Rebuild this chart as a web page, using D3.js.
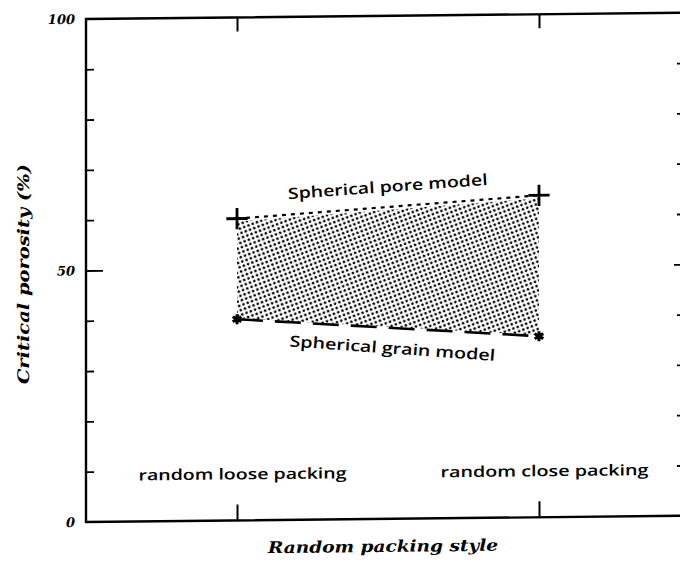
<!DOCTYPE html>
<html>
<head>
<meta charset="utf-8">
<script src="https://cdn.jsdelivr.net/npm/d3@7"></script>
<style>
  body { margin: 0; background: #fff; overflow: hidden; }
  svg { display: block; }
</style>
</head>
<body>
<div id="chart"></div>
<script>
// Critical porosity vs random packing style

// Data
var categories = ["random loose packing", "random close packing"];
var poreModel = [60, 64];   // Spherical pore model (%)
var grainModel = [40, 36];  // Spherical grain model (%)
var yLabelTicks = [0, 50, 100];
var yMinorTicks = [10, 20, 30, 40, 50, 60, 70, 80, 90];

var W = 680, H = 563;
var margin = { top: 19, right: -10, bottom: 41, left: 86 };
var width = W - margin.left - margin.right,
  height = H - margin.top - margin.bottom;

var svg = d3.select("#chart")
  .append("svg")
  .attr("width", W)
  .attr("height", H);

// stipple pattern for the band between the two models
var defs = svg.append("defs");
var pat = defs.append("pattern")
  .attr("id", "stipple")
  .attr("patternUnits", "userSpaceOnUse")
  .attr("width", 6.4)
  .attr("height", 6.4)
  .attr("patternTransform", "rotate(25)");
pat.append("circle").attr("cx", 1.6).attr("cy", 1.6).attr("r", 1.3).attr("fill", "#000");
pat.append("circle").attr("cx", 4.8).attr("cy", 4.8).attr("r", 1.3).attr("fill", "#000");

// the scanned figure is slightly skewed, keep that
var g = svg.append("g")
  .attr("transform", "translate(" + margin.left + "," + margin.top + ") skewY(-0.6)");

var x = d3.scalePoint()
  .domain(categories)
  .range([0, width])
  .padding(0.5);

var y = d3.scaleLinear()
  .domain([0, 100])
  .range([height, 0]);

// Frame
g.append("rect")
  .attr("x", 0)
  .attr("y", 0)
  .attr("width", width)
  .attr("height", height)
  .attr("fill", "none")
  .attr("stroke", "#000")
  .attr("stroke-width", 2.4);

// Left minor ticks (inward)
var leftAxis = g.append("g")
  .call(d3.axisRight(y).tickValues(yMinorTicks).tickSize(8).tickFormat(""));
leftAxis.select(".domain").remove();
leftAxis.selectAll(".tick line")
  .attr("stroke-width", 1.8)
  .attr("x2", d => d === 50 ? 17 : 8);

// Left labels
var leftLabels = g.append("g")
  .call(d3.axisLeft(y).tickValues(yLabelTicks).tickSize(0).tickPadding(11));
leftLabels.select(".domain").remove();
leftLabels.selectAll("text")
  .style("font-family", "'DejaVu Serif', serif")
  .style("font-style", "italic")
  .style("font-weight", "bold")
  .style("font-size", "13px")
  .attr("fill", "#000");

// Right ticks (inward, the axis line itself is off the page)
var rightAxis = g.append("g")
  .attr("transform", "translate(" + width + ",0)")
  .call(d3.axisLeft(y).tickValues(yMinorTicks).tickSize(13).tickFormat(""));
rightAxis.select(".domain").remove();
rightAxis.selectAll(".tick line")
  .attr("stroke-width", 1.8)
  .attr("x2", d => d === 50 ? -16 : -13);

// Top ticks
var topAxis = g.append("g")
  .call(d3.axisBottom(x).tickSize(14).tickFormat(""));
topAxis.select(".domain").remove();
topAxis.selectAll(".tick line").attr("stroke-width", 2);

// Bottom ticks with category labels inside the plot
var bottomAxis = g.append("g")
  .attr("transform", "translate(0," + height + ")")
  .call(d3.axisTop(x).tickSize(16).tickPadding(25));
bottomAxis.select(".domain").remove();
bottomAxis.selectAll(".tick line").attr("stroke-width", 2);
bottomAxis.selectAll(".tick text")
  .attr("x", 5)
  .attr("dy", 0)
  .attr("textLength", 208)
  .attr("lengthAdjust", "spacingAndGlyphs")
  .style("font-family", "'Open Sans', sans-serif")
  .style("font-weight", "600")
  .style("font-size", "15px")
  .attr("fill", "#000");

// Stippled band between models
var band = categories.map((c, i) => ({ c: c, pore: poreModel[i], grain: grainModel[i] }));

var area = d3.area()
  .x(d => x(d.c))
  .y0(d => y(d.grain) - 1)
  .y1(d => y(d.pore) + 3);

g.append("path")
  .datum(band)
  .attr("d", area)
  .attr("fill", "url(#stipple)");

// Model lines
var poreLine = d3.line().x(d => x(d.c)).y(d => y(d.pore));
var grainLine = d3.line().x(d => x(d.c)).y(d => y(d.grain));

g.append("path")
  .datum(band)
  .attr("d", poreLine)
  .attr("fill", "none")
  .attr("stroke", "#000")
  .attr("stroke-width", 2.2)
  .attr("stroke-dasharray", "4,5");

g.append("path")
  .datum(band)
  .attr("d", grainLine)
  .attr("fill", "none")
  .attr("stroke", "#000")
  .attr("stroke-width", 2.6)
  .attr("stroke-dasharray", "26,12");

// Markers
var plus = d3.symbol().type(d3.symbolPlus || d3.symbolCross).size(150);
var star = d3.symbol().type(d3.symbolAsterisk || d3.symbolStar).size(70);

g.selectAll(".pore-mark")
  .data(band)
  .enter()
  .append("path")
  .attr("class", "pore-mark")
  .attr("transform", d => "translate(" + x(d.c) + "," + y(d.pore) + ")")
  .attr("d", plus)
  .attr("fill", "none")
  .attr("stroke", "#000")
  .attr("stroke-width", 2.8);

g.selectAll(".grain-mark")
  .data(band)
  .enter()
  .append("path")
  .attr("class", "grain-mark")
  .attr("transform", d => "translate(" + x(d.c) + "," + y(d.grain) + ")")
  .attr("d", star)
  .attr("fill", "#000")
  .attr("stroke", "#000")
  .attr("stroke-width", 3);

// Model labels
var midX = (x(categories[0]) + x(categories[1])) / 2;
var poreMid = y(d3.mean(poreModel)) - 15;
var grainMid = y(d3.mean(grainModel)) + 26;

var labelStyle = function (sel) {
  sel.style("font-family", "'Open Sans', sans-serif")
    .style("font-weight", "600")
    .style("font-size", "15.5px")
    .attr("text-anchor", "middle")
    .attr("lengthAdjust", "spacingAndGlyphs")
    .attr("fill", "#000");
};

g.append("text")
  .attr("transform", "translate(" + midX + "," + poreMid + ") rotate(-3.5)")
  .attr("textLength", 200)
  .call(labelStyle)
  .text("Spherical pore model");

g.append("text")
  .attr("transform", "translate(" + (midX + 4) + "," + grainMid + ") rotate(4.6)")
  .attr("textLength", 206)
  .call(labelStyle)
  .text("Spherical grain model");

// Axis titles
g.append("text")
  .attr("x", midX - 5)
  .attr("y", height + 33)
  .attr("text-anchor", "middle")
  .attr("textLength", 230)
  .attr("lengthAdjust", "spacingAndGlyphs")
  .style("font-family", "'DejaVu Serif', serif")
  .style("font-style", "italic")
  .style("font-weight", "bold")
  .style("font-size", "16px")
  .text("Random packing style");

g.append("text")
  .attr("transform", "translate(-57," + (y(50) + 3) + ") rotate(-90)")
  .attr("text-anchor", "middle")
  .attr("textLength", 220)
  .attr("lengthAdjust", "spacingAndGlyphs")
  .style("font-family", "'DejaVu Serif', serif")
  .style("font-style", "italic")
  .style("font-weight", "bold")
  .style("font-size", "16px")
  .text("Critical porosity (%)");
</script>
</body>
</html>
